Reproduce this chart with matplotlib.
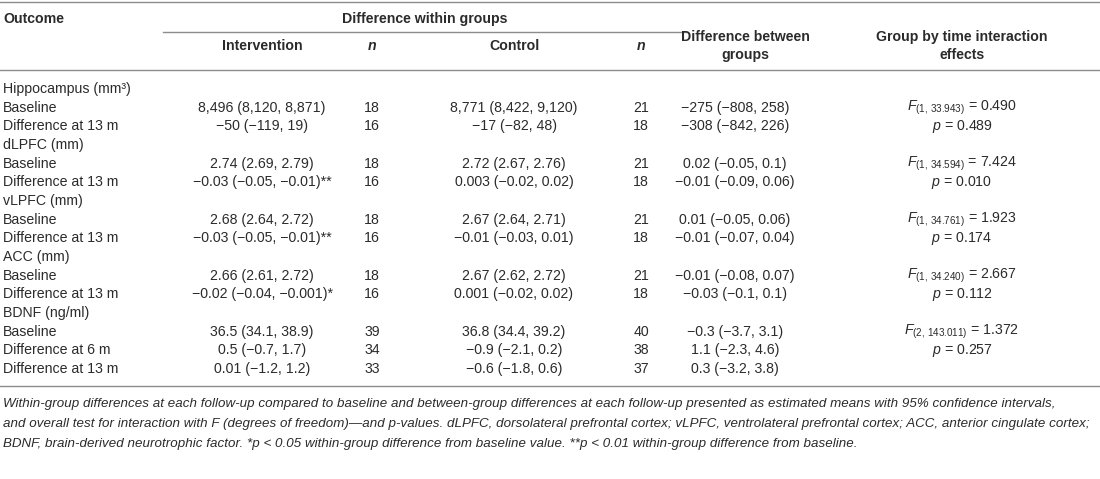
import matplotlib
matplotlib.use("Agg")
import matplotlib.pyplot as plt
from matplotlib import font_manager

# ---------------- data ----------------
outcome_labels = ["Hippocampus (mm³)", "Baseline", "Difference at 13 m",
                  "dLPFC (mm)", "Baseline", "Difference at 13 m",
                  "vLPFC (mm)", "Baseline", "Difference at 13 m",
                  "ACC (mm)", "Baseline", "Difference at 13 m",
                  "BDNF (ng/ml)", "Baseline", "Difference at 6 m", "Difference at 13 m"]
intervention = ["", "8,496 (8,120, 8,871)", "−50 (−119, 19)",
                "", "2.74 (2.69, 2.79)", "−0.03 (−0.05, −0.01)**",
                "", "2.68 (2.64, 2.72)", "−0.03 (−0.05, −0.01)**",
                "", "2.66 (2.61, 2.72)", "−0.02 (−0.04, −0.001)*",
                "", "36.5 (34.1, 38.9)", "0.5 (−0.7, 1.7)", "0.01 (−1.2, 1.2)"]
n_intervention = ["", "18", "16", "", "18", "16", "", "18", "16", "", "18", "16", "", "39", "34", "33"]
control = ["", "8,771 (8,422, 9,120)", "−17 (−82, 48)",
           "", "2.72 (2.67, 2.76)", "0.003 (−0.02, 0.02)",
           "", "2.67 (2.64, 2.71)", "−0.01 (−0.03, 0.01)",
           "", "2.67 (2.62, 2.72)", "0.001 (−0.02, 0.02)",
           "", "36.8 (34.4, 39.2)", "−0.9 (−2.1, 0.2)", "−0.6 (−1.8, 0.6)"]
n_control = ["", "21", "18", "", "21", "18", "", "21", "18", "", "21", "18", "", "40", "38", "37"]
between = ["", "−275 (−808, 258)", "−308 (−842, 226)",
           "", "0.02 (−0.05, 0.1)", "−0.01 (−0.09, 0.06)",
           "", "0.01 (−0.05, 0.06)", "−0.01 (−0.07, 0.04)",
           "", "−0.01 (−0.08, 0.07)", "−0.03 (−0.1, 0.1)",
           "", "−0.3 (−3.7, 3.1)", "1.1 (−2.3, 4.6)", "0.3 (−3.2, 3.8)"]
f_df = ["1, 33.943", "1, 34.594", "1, 34.761", "1, 34.240", "2, 143.011"]
f_value = ["0.490", "7.424", "1.923", "2.667", "1.372"]
p_value = ["0.489", "0.010", "0.174", "0.112", "0.257"]
f_rows = [1, 4, 7, 10, 13]

header_top = ["Outcome", "Difference within groups"]
header_sub = ["Intervention", "n", "Control", "n"]
header_between = "Difference between\ngroups"
header_effects = "Group by time interaction\neffects"

footnote = [
    "Within-group differences at each follow-up compared to baseline and between-group differences at each follow-up presented as estimated means with 95% confidence intervals,",
    "and overall test for interaction with F (degrees of freedom)—and p-values. dLPFC, dorsolateral prefrontal cortex; vLPFC, ventrolateral prefrontal cortex; ACC, anterior cingulate cortex;",
    "BDNF, brain-derived neurotrophic factor. *p < 0.05 within-group difference from baseline value. **p < 0.01 within-group difference from baseline.",
]

# ---------------- style ----------------
plt.rcParams['font.family'] = ['Liberation Sans', 'DejaVu Sans']
plt.rcParams['mathtext.fontset'] = 'custom'
plt.rcParams['mathtext.rm'] = 'Liberation Sans'
plt.rcParams['mathtext.it'] = 'Liberation Sans:italic'
plt.rcParams['mathtext.bf'] = 'Liberation Sans:bold'

names = {f.name for f in font_manager.fontManager.ttflist}
foot_family = 'Liberation Sans Narrow' if 'Liberation Sans Narrow' in names else 'Liberation Sans'
foot_size = 11.6 if foot_family == 'Liberation Sans Narrow' else 9.6

TXT = '#2b2b2b'
LINE = '#8c8c8c'
FS = 10.2

W, H = 1100, 479
fig = plt.figure(figsize=(W / 100, H / 100), dpi=100)
ax = fig.add_axes([0, 0, 1, 1])
ax.set_xlim(0, W)
ax.set_ylim(H, 0)
ax.axis('off')

# column positions (pixels)
x_out = 3
x_int = 262
x_n1 = 372
x_ctl = 514
x_n2 = 641
x_btw = 735
x_eff = 962

# rules
ax.plot([0, W], [1.5, 1.5], color=LINE, lw=1.0)
ax.plot([163, 687], [32, 32], color=LINE, lw=1.0)
ax.plot([0, W], [70, 70], color=LINE, lw=1.0)
ax.plot([0, W], [385.5, 385.5], color=LINE, lw=1.0)

# header
ax.text(x_out, 19, header_top[0], fontsize=FS, fontweight='bold', color=TXT, va='center', ha='left')
ax.text(425, 19, header_top[1], fontsize=FS, fontweight='bold', color=TXT, va='center', ha='center')
for x, s in zip([x_int, x_n1, x_ctl, x_n2], header_sub):
    ax.text(x, 46, s, fontsize=FS, fontweight='bold', color=TXT, va='center', ha='center',
            fontstyle='italic' if s == 'n' else 'normal')
ax.text(x_btw + 10, 46, header_between, fontsize=FS, fontweight='bold', color=TXT,
        va='center', ha='center', linespacing=1.45)
ax.text(x_eff, 46, header_effects, fontsize=FS, fontweight='bold', color=TXT,
        va='center', ha='center', linespacing=1.45)

# body
y0 = 89
dy = 18.67
for i in range(len(outcome_labels)):
    y = y0 + i * dy
    ax.text(x_out, y, outcome_labels[i], fontsize=FS, color=TXT, va='center', ha='left')
    ax.text(x_int, y, intervention[i], fontsize=FS, color=TXT, va='center', ha='center')
    ax.text(x_n1, y, n_intervention[i], fontsize=FS, color=TXT, va='center', ha='center')
    ax.text(x_ctl, y, control[i], fontsize=FS, color=TXT, va='center', ha='center')
    ax.text(x_n2, y, n_control[i], fontsize=FS, color=TXT, va='center', ha='center')
    ax.text(x_btw, y, between[i], fontsize=FS, color=TXT, va='center', ha='center')

for k, r in enumerate(f_rows):
    y = y0 + r * dy
    s = r"$\mathit{F}_{\mathrm{(" + f_df[k].replace(", ", r",\,") + r")}}$" + " = " + f_value[k]
    ax.text(x_eff, y, s, fontsize=FS, color=TXT, va='center', ha='center')
    ax.text(x_eff, y + dy, r"$\mathit{p}$ = " + p_value[k], fontsize=FS, color=TXT, va='center', ha='center')

# footnote
for j, line in enumerate(footnote):
    ax.text(x_out, 404 + j * 20, line, fontsize=foot_size, color=TXT, va='center', ha='left',
            family=[foot_family, 'DejaVu Sans'], fontstyle='italic')

fig.savefig('out.png', dpi=100)
